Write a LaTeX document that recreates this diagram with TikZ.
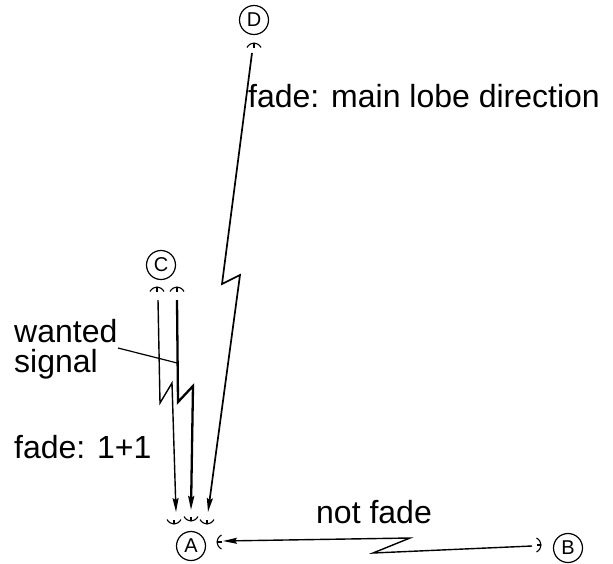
\documentclass[tikz,border=0pt]{standalone}
\usepackage{fontspec}
\setmainfont{Liberation Sans}
\usetikzlibrary{arrows.meta}
\begin{document}
\begin{tikzpicture}[x=1pt,y=-1pt,
  station/.style={circle,draw,line width=1.2pt,minimum size=29pt,inner sep=0pt,
    font=\fontsize{20}{22}\selectfont},
  label/.style={anchor=base west,inner sep=0pt,font=\fontsize{32}{38}\selectfont},
  link/.style={line width=1.4pt,-{Stealth[length=14pt,width=6pt,inset=2pt]}},
  dish/.pic={
    \draw[line width=1.1pt] (-7,3.5) .. controls (-3.5,-2.5) and (3.5,-2.5) .. (7,3.5);
    \draw[line width=1.1pt] (0,-1) -- (0,3.5);
  }]
\useasboundingbox (0,0) rectangle (613,563);

% stations
\node[station] (D) at (254,20) {D};
\node[station] (C) at (161,265) {C};
\node[station] (A) at (191,546) {A};
\node[station] (B) at (568,548) {B};

% antennas
\pic at (254,44) {dish};
\pic at (157,288) {dish};
\pic at (177,288) {dish};
\pic[rotate=180] at (174,523) {dish};
\pic[rotate=180] at (191,520) {dish};
\pic[rotate=180] at (207,523) {dish};
\pic[rotate=90] at (218,542) {dish};
\pic[rotate=-90] at (540,545) {dish};

% link end points
\coordinate (Dout) at (252,53);
\coordinate (Cout1) at (158,300);
\coordinate (Cout2) at (177,300);
\coordinate (Bout) at (532,546);
\coordinate (Ain1) at (176,512);
\coordinate (Ain2) at (191,510);
\coordinate (Ain3) at (208,512);
\coordinate (Ain4) at (223,541);

% faded hops (zigzag marks the fade)
\draw[link,line width=1.7pt] (Dout) -- (222,284) -- (240,275) -- (Ain3);
\draw[link] (Cout1) -- (160,403) -- (172,383) -- (Ain1);
\draw[link,line width=2.3pt] (Cout2) -- (178,402) -- (193,386) -- (Ain2);
\draw[link] (Bout) -- (373,553) -- (410,538) -- (Ain4);

% texts
\node[label] (t1) at (248,107) {fade: main lobe direction};
\node[label] (t2) at (14,342) {wanted};
\node[label] (t3) at (14,372) {signal};
\node[label] (t4) at (14,458) {fade: 1+1};
\node[label] (t5) at (316,523) {not fade};
\coordinate (lead) at (118,348);
\coordinate (wanted) at (177.2,363);
\draw[line width=1.2pt] (lead) -- (wanted);
\end{tikzpicture}
\end{document}
